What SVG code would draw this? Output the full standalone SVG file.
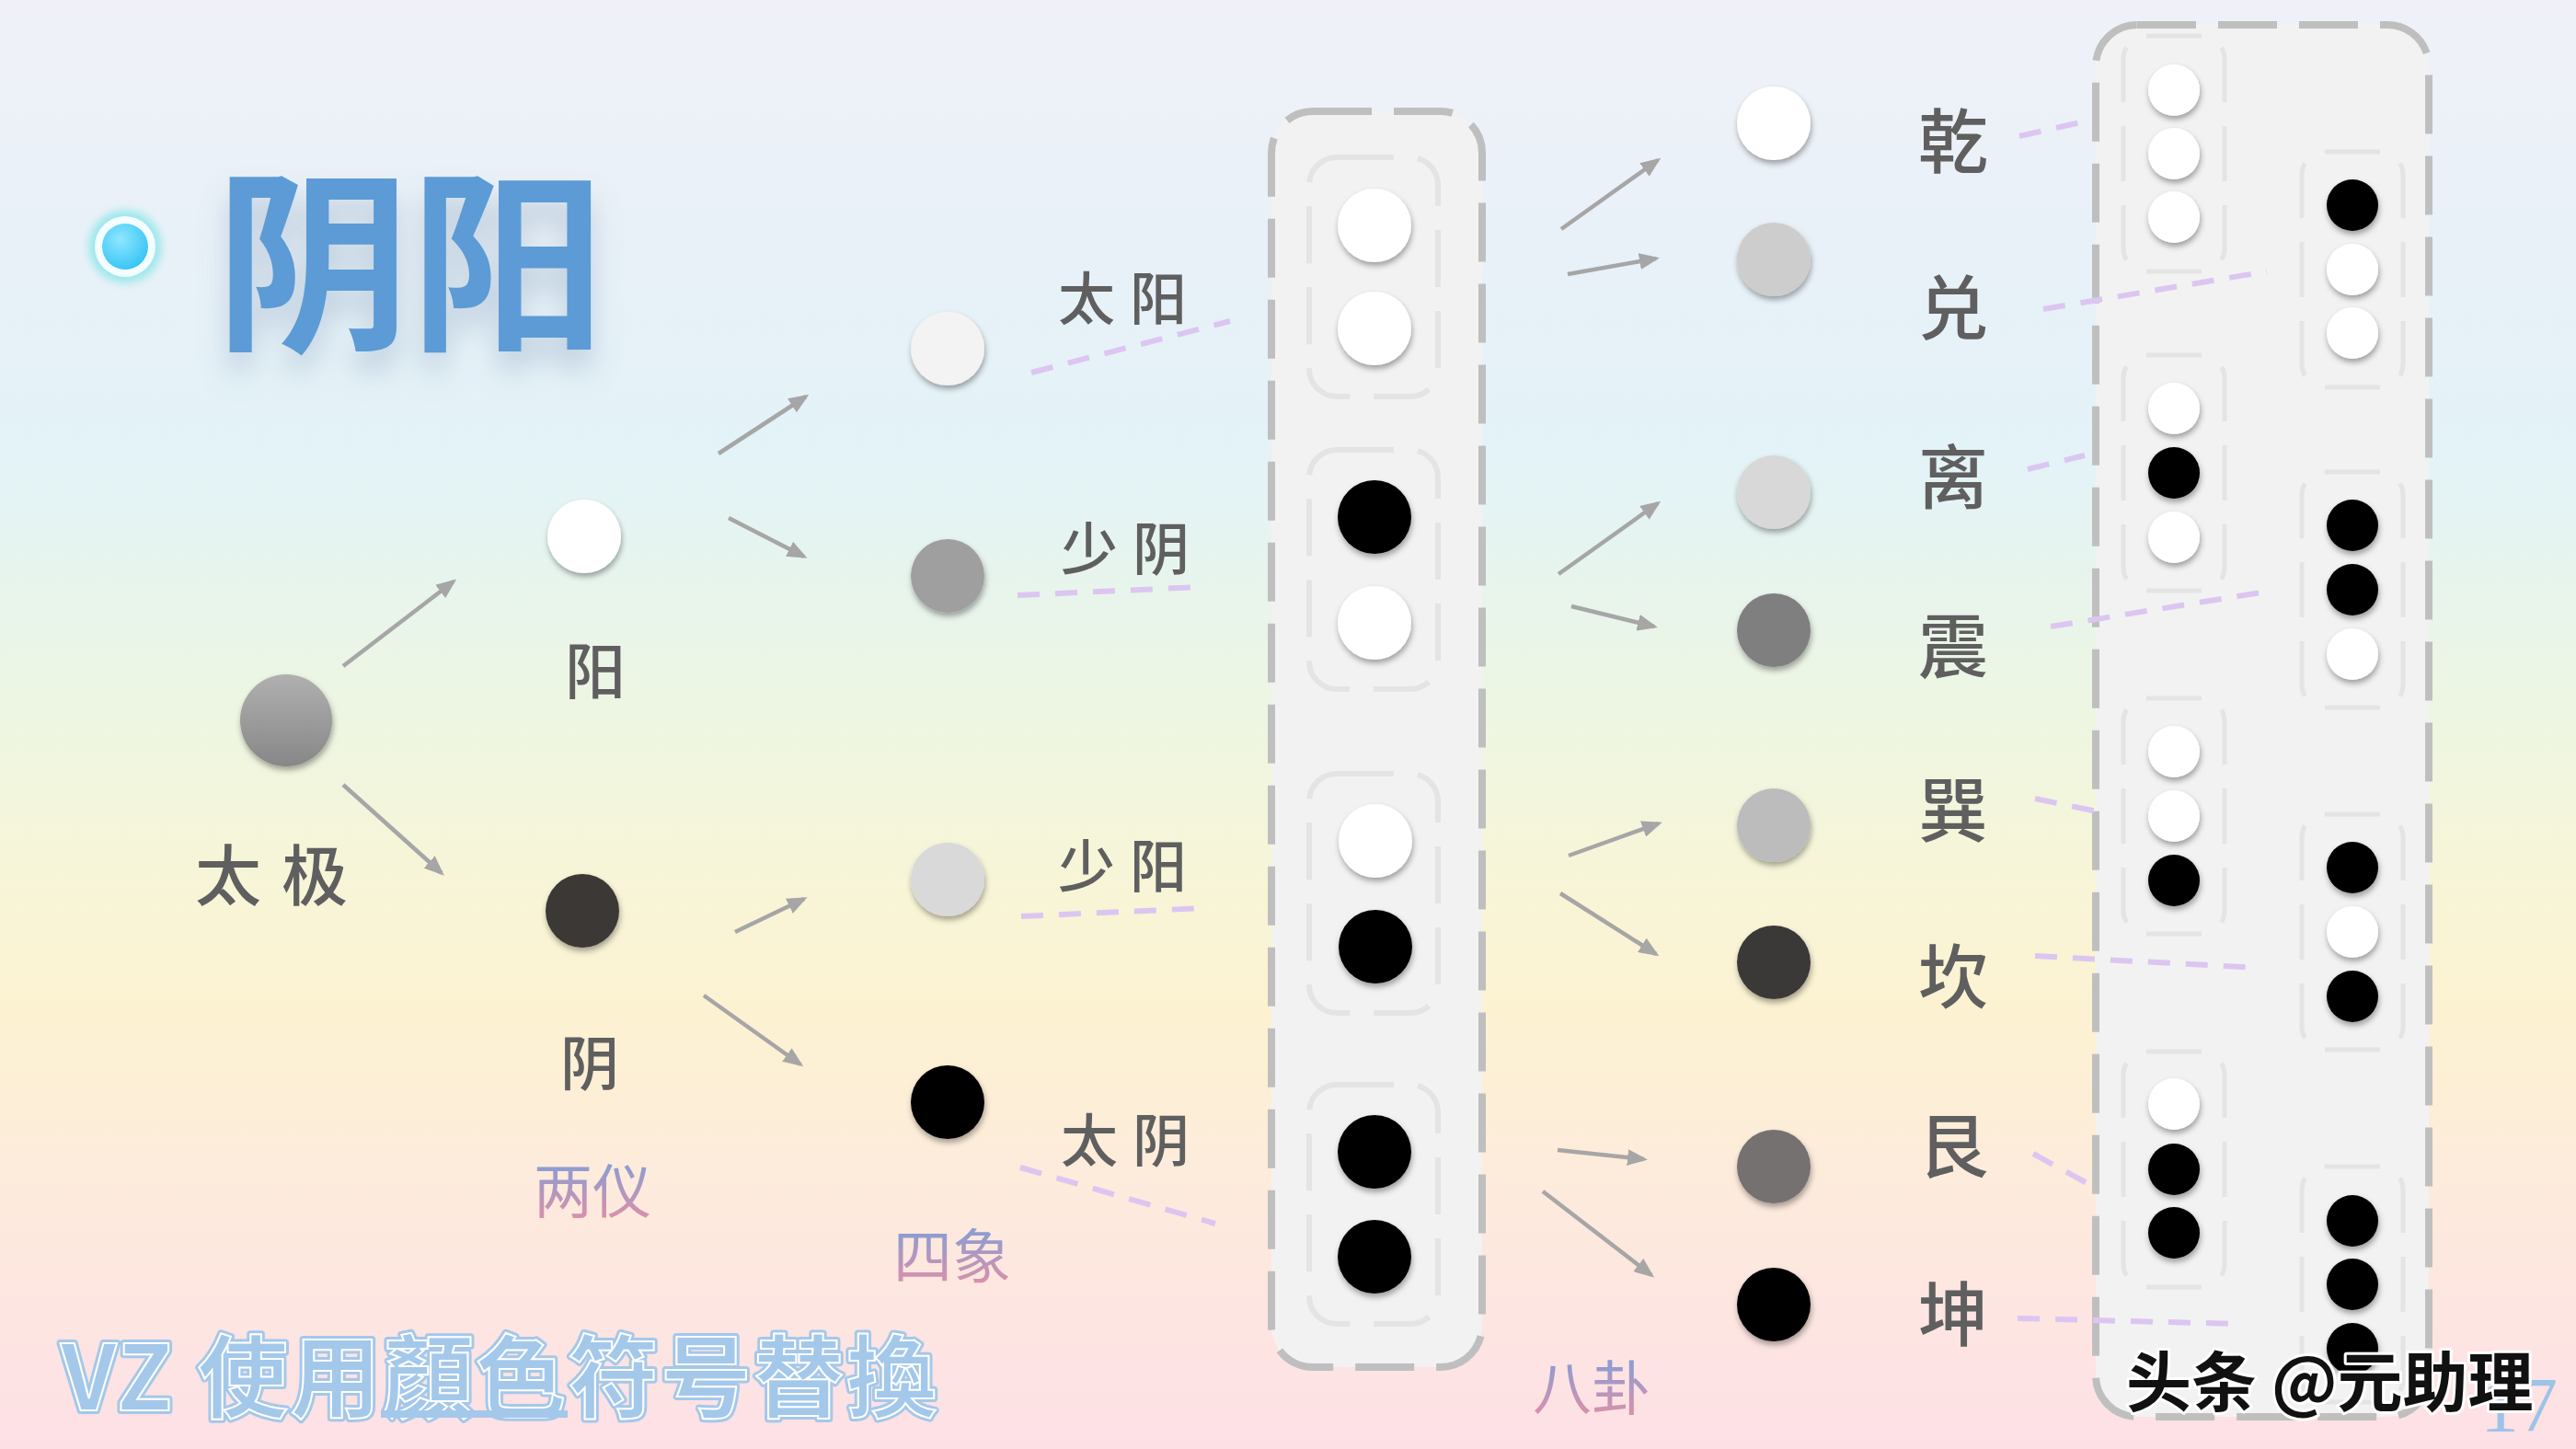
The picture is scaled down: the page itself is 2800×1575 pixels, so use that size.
<svg xmlns="http://www.w3.org/2000/svg" width="2800" height="1575" viewBox="0 0 2800 1575">
<defs>
  <linearGradient id="bg" x1="0" y1="0" x2="0" y2="1">
    <stop offset="0" stop-color="#f0f1f8"/>
    <stop offset="0.18" stop-color="#e8f1f8"/>
    <stop offset="0.32" stop-color="#e3f3f7"/>
    <stop offset="0.48" stop-color="#ecf6e3"/>
    <stop offset="0.6" stop-color="#f7f5d8"/>
    <stop offset="0.7" stop-color="#fcf2d2"/>
    <stop offset="0.83" stop-color="#fdeadd"/>
    <stop offset="1" stop-color="#fde0e6"/>
  </linearGradient>
  <linearGradient id="lblg" x1="0" y1="0" x2="0" y2="1">
    <stop offset="0.15" stop-color="#7f9fd8"/>
    <stop offset="1" stop-color="#ea8ea3"/>
  </linearGradient>
  <linearGradient id="taijiG" x1="0" y1="0" x2="0" y2="1">
    <stop offset="0" stop-color="#b0b0b0"/>
    <stop offset="1" stop-color="#878787"/>
  </linearGradient>
  <radialGradient id="bulletIn" cx="0.4" cy="0.35" r="0.7">
    <stop offset="0" stop-color="#8fe7ff"/>
    <stop offset="1" stop-color="#35c3f5"/>
  </radialGradient>
  <filter id="dsh" x="-40%" y="-40%" width="180%" height="190%">
    <feDropShadow dx="1" dy="4" stdDeviation="3" flood-color="#000" flood-opacity="0.35"/>
  </filter>
  <filter id="tsh" x="-20%" y="-30%" width="140%" height="180%">
    <feGaussianBlur in="SourceAlpha" stdDeviation="16"/>
    <feOffset dy="22" result="b"/>
    <feFlood flood-color="#5a7aa0" flood-opacity="0.3"/>
    <feComposite in2="b" operator="in"/>
    <feMerge><feMergeNode/><feMergeNode in="SourceGraphic"/></feMerge>
  </filter>
  <filter id="glow" x="-50%" y="-50%" width="200%" height="200%">
    <feGaussianBlur stdDeviation="4"/>
  </filter>
  <marker id="ah" viewBox="0 0 22 18" refX="18" refY="9" markerWidth="22" markerHeight="18" markerUnits="userSpaceOnUse" orient="auto">
    <path d="M0,0 L22,9 L0,18 z" fill="#a6a6a6"/>
  </marker>
</defs>
<style>
  .lbl{font-family:"Noto Sans CJK SC","Noto Sans CJK JP",sans-serif;fill:#5f5f5f;dominant-baseline:central;text-anchor:middle;font-weight:500}
  .grd{font-family:"Noto Sans CJK SC","Noto Sans CJK JP",sans-serif;fill:url(#lblg);dominant-baseline:central;text-anchor:middle;font-size:64px}
  .arr{stroke:#a6a6a6;stroke-width:4.5;fill:none;marker-end:url(#ah)}
  .dl{stroke:#dcc6f1;stroke-width:6;stroke-dasharray:24 17;fill:none}
  .box{fill:#f2f2f2;stroke:#bfbfbf;stroke-width:8;stroke-dasharray:64 24}
  .sub{fill:none;stroke:#e4e4e4;stroke-width:6;stroke-dasharray:62 26}
  .sub2{fill:none;stroke:#e4e4e4;stroke-width:5;stroke-dasharray:60 26}
  .dot{filter:url(#dsh)}
</style>

<rect x="0" y="0" width="2800" height="1575" fill="url(#bg)"/>

<!-- title -->
<g id="title">
  <circle cx="136" cy="268" r="40" fill="#9fe8ec" filter="url(#glow)"/>
  <circle cx="136" cy="268" r="33" fill="#f4fdff"/>
  <circle cx="136" cy="268" r="25" fill="url(#bulletIn)"/>
  <text x="446" y="272" font-family="'Noto Sans CJK SC','Noto Sans CJK JP',sans-serif" font-weight="bold" font-size="212" fill="#5b9bd5" text-anchor="middle" dominant-baseline="central" filter="url(#tsh)">阴阳</text>
</g>

<!-- subtitle bottom-left -->
<g id="subtitle">
  <text x="66" y="1490" font-family="'Noto Sans CJK SC','Noto Sans CJK JP',sans-serif" font-weight="bold" font-size="98" fill="#a4c8ea" stroke="#a4c8ea" stroke-width="8" stroke-linejoin="round" dominant-baseline="central" textLength="952" lengthAdjust="spacing">VZ 使用顏色符号替換</text>
  <text x="66" y="1490" font-family="'Noto Sans CJK SC','Noto Sans CJK JP',sans-serif" font-weight="bold" font-size="98" fill="#a4c8ea" stroke="#ffffff" stroke-width="2" dominant-baseline="central" textLength="952" lengthAdjust="spacing">VZ 使用顏色符号替換</text>
  <rect x="414" y="1533" width="203" height="8" fill="#a4c8ea"/>
</g>

<!-- 四象 box -->
<g id="sixiang-box">
  <rect class="box" x="1382" y="121" width="229" height="1365" rx="45"/>
  <rect class="sub" x="1423" y="171" width="140" height="260" rx="30"/>
  <rect class="sub" x="1423" y="489" width="140" height="260" rx="30"/>
  <rect class="sub" x="1423" y="841" width="140" height="260" rx="30"/>
  <rect class="sub" x="1423" y="1179" width="140" height="260" rx="30"/>
  <circle class="dot" cx="1494" cy="245" r="40" fill="#fff"/>
  <circle class="dot" cx="1494" cy="357" r="40" fill="#fff"/>
  <circle class="dot" cx="1494" cy="562" r="40" fill="#000"/>
  <circle class="dot" cx="1494" cy="677" r="40" fill="#fff"/>
  <circle class="dot" cx="1495" cy="914" r="40" fill="#fff"/>
  <circle class="dot" cx="1495" cy="1029" r="40" fill="#000"/>
  <circle class="dot" cx="1494" cy="1252" r="40" fill="#000"/>
  <circle class="dot" cx="1494" cy="1366" r="40" fill="#000"/>
</g>

<!-- 八卦 box -->
<g id="bagua-box">
  <rect class="box" x="2278" y="27" width="362" height="1513" rx="45"/>
  <rect class="sub2" x="2308" y="39" width="110" height="256" rx="25"/>
  <rect class="sub2" x="2308" y="386" width="110" height="256" rx="25"/>
  <rect class="sub2" x="2308" y="759" width="110" height="256" rx="25"/>
  <rect class="sub2" x="2308" y="1143" width="110" height="256" rx="25"/>
  <rect class="sub2" x="2502" y="165" width="110" height="256" rx="25"/>
  <rect class="sub2" x="2502" y="513" width="110" height="256" rx="25"/>
  <rect class="sub2" x="2502" y="885" width="110" height="256" rx="25"/>
  <rect class="sub2" x="2502" y="1268" width="110" height="256" rx="25"/>
  <circle class="dot" cx="2363" cy="98" r="28" fill="#fff"/>
  <circle class="dot" cx="2363" cy="167" r="28" fill="#fff"/>
  <circle class="dot" cx="2363" cy="236" r="28" fill="#fff"/>
  <circle class="dot" cx="2363" cy="444" r="28" fill="#fff"/>
  <circle class="dot" cx="2363" cy="514" r="28" fill="#000"/>
  <circle class="dot" cx="2363" cy="584" r="28" fill="#fff"/>
  <circle class="dot" cx="2363" cy="817" r="28" fill="#fff"/>
  <circle class="dot" cx="2363" cy="887" r="28" fill="#fff"/>
  <circle class="dot" cx="2363" cy="957" r="28" fill="#000"/>
  <circle class="dot" cx="2363" cy="1200" r="28" fill="#fff"/>
  <circle class="dot" cx="2363" cy="1271" r="28" fill="#000"/>
  <circle class="dot" cx="2363" cy="1340" r="28" fill="#000"/>
  <circle class="dot" cx="2557" cy="223" r="28" fill="#000"/>
  <circle class="dot" cx="2557" cy="293" r="28" fill="#fff"/>
  <circle class="dot" cx="2557" cy="362" r="28" fill="#fff"/>
  <circle class="dot" cx="2557" cy="571" r="28" fill="#000"/>
  <circle class="dot" cx="2557" cy="641" r="28" fill="#000"/>
  <circle class="dot" cx="2557" cy="711" r="28" fill="#fff"/>
  <circle class="dot" cx="2557" cy="943" r="28" fill="#000"/>
  <circle class="dot" cx="2557" cy="1013" r="28" fill="#fff"/>
  <circle class="dot" cx="2557" cy="1083" r="28" fill="#000"/>
  <circle class="dot" cx="2557" cy="1327" r="28" fill="#000"/>
  <circle class="dot" cx="2557" cy="1396" r="28" fill="#000"/>
  <circle class="dot" cx="2557" cy="1466" r="28" fill="#000"/>
</g>

<!-- 太极 / 两仪 -->
<g id="taiji">
  <circle class="dot" cx="311" cy="783" r="50" fill="url(#taijiG)"/>
  <text class="lbl" x="306" y="946" font-size="72" letter-spacing="22">太极</text>
</g>
<g id="yang">
  <circle class="dot" cx="635" cy="583" r="40" fill="#fff"/>
  <text class="lbl" x="647" y="725" font-size="66">阳</text>
</g>
<g id="yin">
  <circle class="dot" cx="633" cy="990" r="40" fill="#3a3836"/>
  <text class="lbl" x="641" y="1151" font-size="64">阴</text>
</g>
<g id="liangyi-label"><text class="grd" x="644" y="1290">两仪</text></g>

<!-- 四象 nodes -->
<g id="taiyang">
  <circle class="dot" cx="1030" cy="379" r="40" fill="#f3f3f3"/>
  <text class="lbl" x="1228" y="321" font-size="62" letter-spacing="16">太阳</text>
</g>
<g id="shaoyin">
  <circle class="dot" cx="1030" cy="626" r="40" fill="#9f9f9f"/>
  <text class="lbl" x="1231" y="593" font-size="62" letter-spacing="16">少阴</text>
</g>
<g id="shaoyang">
  <circle class="dot" cx="1030" cy="956" r="40" fill="#d9d9d9"/>
  <text class="lbl" x="1228" y="938" font-size="62" letter-spacing="16">少阳</text>
</g>
<g id="taiyin">
  <circle class="dot" cx="1030" cy="1198" r="40" fill="#000"/>
  <text class="lbl" x="1231" y="1236" font-size="62" letter-spacing="16">太阴</text>
</g>
<g id="sixiang-label"><text class="grd" x="1035" y="1361">四象</text></g>

<!-- 八卦 nodes -->
<g id="qian"><circle class="dot" cx="1928" cy="134" r="40" fill="#ffffff"/><text class="lbl" x="2123" y="149" font-size="76">乾</text></g>
<g id="dui"><circle class="dot" cx="1928" cy="282" r="40" fill="#cdcdcd"/><text class="lbl" x="2123" y="330" font-size="76">兑</text></g>
<g id="li"><circle class="dot" cx="1928" cy="535" r="40" fill="#d8d8d8"/><text class="lbl" x="2123" y="514" font-size="76">离</text></g>
<g id="zhen"><circle class="dot" cx="1928" cy="685" r="40" fill="#7f7f7f"/><text class="lbl" x="2123" y="698" font-size="76">震</text></g>
<g id="xun"><circle class="dot" cx="1928" cy="897" r="40" fill="#bcbcbc"/><text class="lbl" x="2123" y="876" font-size="76">巽</text></g>
<g id="kan"><circle class="dot" cx="1928" cy="1046" r="40" fill="#3b3838"/><text class="lbl" x="2123" y="1057" font-size="76">坎</text></g>
<g id="gen"><circle class="dot" cx="1928" cy="1268" r="40" fill="#757171"/><text class="lbl" x="2123" y="1241" font-size="76">艮</text></g>
<g id="kun"><circle class="dot" cx="1928" cy="1418" r="40" fill="#000000"/><text class="lbl" x="2123" y="1424" font-size="76">坤</text></g>
<g id="bagua-label"><text class="grd" x="1730" y="1504">八卦</text></g>

<!-- connectors -->
<g id="connectors">
  <line class="arr" x1="373" y1="724" x2="493" y2="632"/>
  <line class="arr" x1="373" y1="853" x2="480" y2="949"/>
  <line class="arr" x1="781" y1="493" x2="876" y2="431"/>
  <line class="arr" x1="792" y1="563" x2="874" y2="605"/>
  <line class="arr" x1="799" y1="1013" x2="874" y2="977"/>
  <line class="arr" x1="765" y1="1082" x2="870" y2="1157"/>
  <line class="arr" x1="1697" y1="249" x2="1802" y2="174"/>
  <line class="arr" x1="1704" y1="298" x2="1800" y2="281"/>
  <line class="arr" x1="1694" y1="624" x2="1802" y2="547"/>
  <line class="arr" x1="1708" y1="659" x2="1798" y2="681"/>
  <line class="arr" x1="1705" y1="930" x2="1803" y2="895"/>
  <line class="arr" x1="1696" y1="971" x2="1800" y2="1037"/>
  <line class="arr" x1="1693" y1="1250" x2="1787" y2="1260"/>
  <line class="arr" x1="1677" y1="1295" x2="1795" y2="1386"/>

  <line class="dl" x1="1121" y1="405" x2="1337" y2="349"/>
  <line class="dl" x1="1106" y1="647" x2="1306" y2="638"/>
  <line class="dl" x1="1110" y1="996" x2="1310" y2="987"/>
  <line class="dl" x1="1109" y1="1269" x2="1321" y2="1330"/>

  <line class="dl" x1="2195" y1="148" x2="2266" y2="132"/>
  <line class="dl" x1="2221" y1="336" x2="2464" y2="295"/>
  <line class="dl" x1="2204" y1="510" x2="2266" y2="495"/>
  <line class="dl" x1="2229" y1="681" x2="2470" y2="642"/>
  <line class="dl" x1="2212" y1="868" x2="2279" y2="882"/>
  <line class="dl" x1="2212" y1="1039" x2="2455" y2="1052"/>
  <line class="dl" x1="2210" y1="1254" x2="2272" y2="1288"/>
  <line class="dl" x1="2193" y1="1433" x2="2434" y2="1439"/>
</g>

<!-- page number and watermark -->
<text x="2696" y="1556" font-family="'Liberation Serif',serif" font-size="84" fill="#9dc3e6">17</text>
<text x="2311" y="1497" font-family="'Noto Sans CJK SC','Noto Sans CJK JP',sans-serif" font-weight="bold" font-size="71" fill="#111" stroke="#fff" stroke-width="6" paint-order="stroke" stroke-linejoin="round" dominant-baseline="central">头条 @元助理</text>
</svg>
